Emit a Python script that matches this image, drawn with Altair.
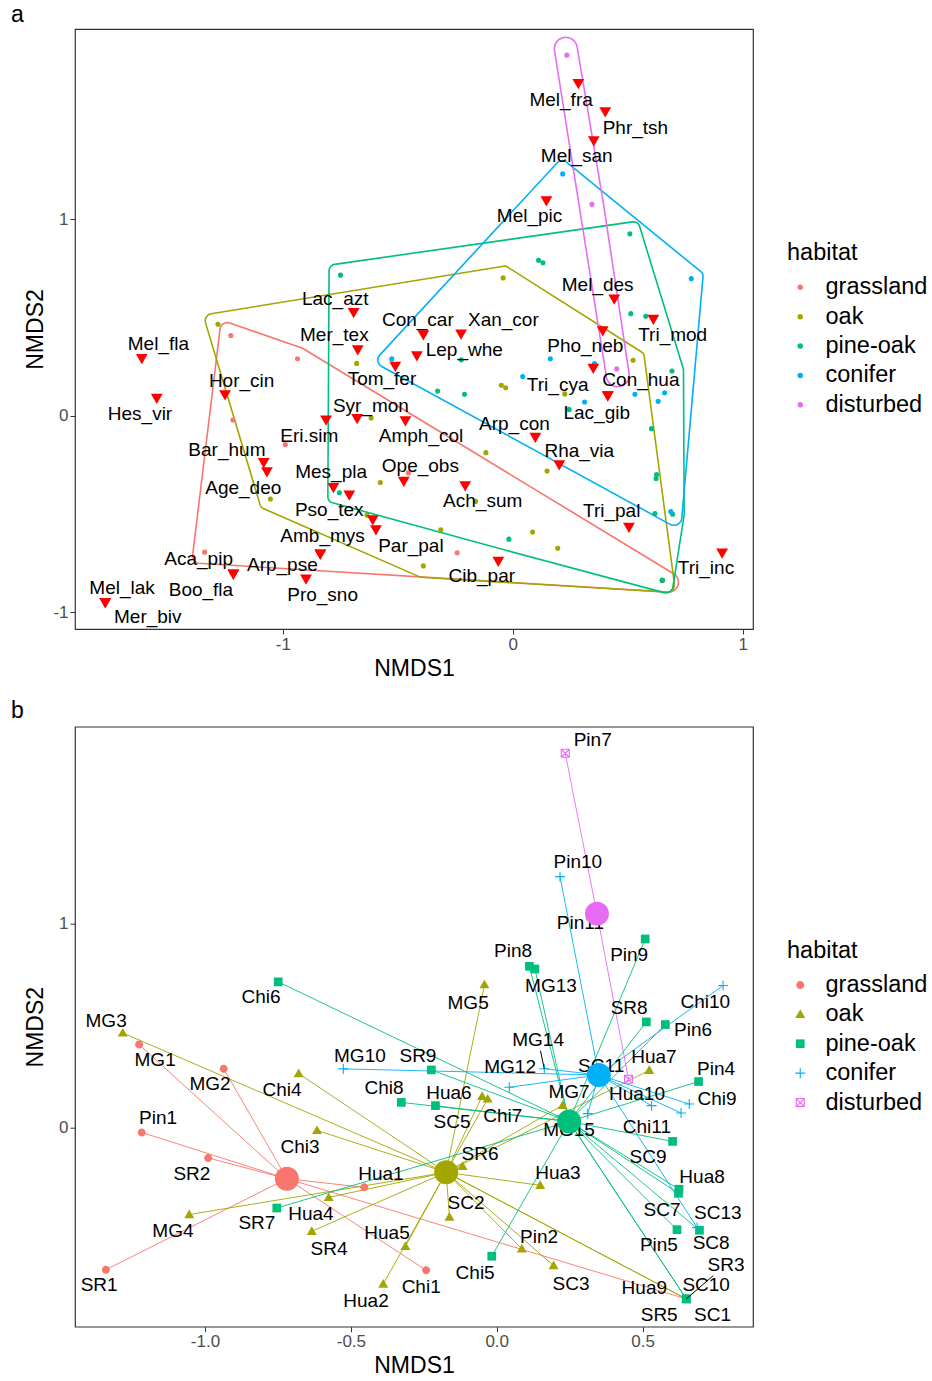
import altair as alt
import numpy as np
import pandas as pd

FONT = "Liberation Sans"
HABITATS = ["grassland", "oak", "pine-oak", "conifer", "disturbed"]
HAB_COLORS = ["#F8766D", "#A3A500", "#00BF7D", "#00B0F6", "#E76BF3"]

# ---------------- sites (NMDS scores) and their label positions (panel b) -------------
grassland_names = ["MG1", "MG2", "Pin1", "SR2", "SR1", "Hua1", "Chi1", "SR5"]
grassland_x = [-1.226, -0.936, -1.217, -0.989, -1.340, -0.454, -0.242, 0.650]
grassland_y = [0.408, 0.290, -0.022, -0.147, -0.694, -0.291, -0.697, -0.837]
grassland_lx = [-1.171, -0.983, -1.161, -1.045, -1.363, -0.397, -0.259, 0.557]
grassland_ly = [0.334, 0.217, 0.050, -0.224, -0.767, -0.224, -0.777, -0.914]

oak_names = ["MG3", "Chi4", "Chi3", "Hua4", "MG4", "SR4", "Hua5", "Hua2", "MG5", "Hua6",
             "Chi7", "SR6", "SC2", "Hua3", "Pin2", "SC3", "MG7", "Hua7", "Hua9", "SC1"]
oak_x = [-1.282, -0.679, -0.616, -0.576, -1.054, -0.634, -0.313, -0.389, -0.042, -0.050,
         -0.031, -0.117, -0.162, 0.149, 0.086, 0.195, 0.226, 0.523, 0.650, 0.650]
oak_y = [0.465, 0.266, -0.012, -0.340, -0.424, -0.506, -0.580, -0.764, 0.701, 0.155,
         0.142, -0.188, -0.436, -0.281, -0.592, -0.674, 0.111, 0.282, -0.837, -0.837]
oak_lx = [-1.339, -0.736, -0.674, -0.637, -1.110, -0.575, -0.376, -0.448, -0.098, -0.164,
          0.021, -0.057, -0.105, 0.210, 0.145, 0.255, 0.248, 0.539, 0.506, 0.740]
oak_ly = [0.525, 0.187, -0.092, -0.419, -0.503, -0.591, -0.512, -0.845, 0.613, 0.173,
          0.057, -0.127, -0.366, -0.219, -0.532, -0.762, 0.178, 0.349, -0.783, -0.914]

pineoak_names = ["Chi6", "SR9", "Chi8", "SC5", "SR7", "Chi5", "Pin8", "MG13", "Pin9", "SR8",
                 "Pin6", "Pin4", "SC9", "Hua8", "SC7", "Pin5", "SC8", "MG15", "SC10", "SR3"]
pineoak_x = [-0.749, -0.224, -0.327, -0.210, -0.754, -0.017, 0.112, 0.131, 0.509, 0.513,
             0.578, 0.692, 0.603, 0.625, 0.623, 0.618, 0.695, 0.245, 0.650, 0.650]
pineoak_y = [0.715, 0.284, 0.125, 0.109, -0.392, -0.628, 0.791, 0.778, 0.925, 0.519,
             0.506, 0.227, -0.066, -0.300, -0.320, -0.498, -0.501, 0.032, -0.837, -0.837]
pineoak_lx = [-0.808, -0.270, -0.386, -0.153, -0.822, -0.074, 0.056, 0.186, 0.454, 0.454,
              0.673, 0.752, 0.519, 0.704, 0.567, 0.556, 0.735, 0.248, 0.718, 0.786]
pineoak_ly = [0.641, 0.354, 0.197, 0.031, -0.464, -0.708, 0.868, 0.697, 0.848, 0.589,
              0.481, 0.290, -0.140, -0.238, -0.400, -0.571, -0.561, -0.008, -0.767, -0.669]

conifer_names = ["MG10", "Pin10", "Chi10", "SC13", "MG12", "MG14", "SC11", "Chi9", "Chi11", "", ""]
conifer_x = [-0.526, 0.217, 0.776, 0.687, 0.043, 0.163, 0.355, 0.660, 0.531, 0.312, 0.632]
conifer_y = [0.289, 1.230, 0.697, -0.488, 0.199, 0.290, 0.265, 0.117, 0.109, 0.070, 0.073]
conifer_lx = [-0.469, 0.278, 0.715, 0.758, 0.046, 0.142, 0.358, 0.755, 0.515, None, None]
conifer_ly = [0.354, 1.300, 0.615, -0.416, 0.300, 0.432, 0.305, 0.143, 0.006, None, None]

disturbed_names = ["Pin7", "Pin11", "Hua10"]
disturbed_x = [0.235, 0.344, 0.452]
disturbed_y = [1.834, 1.075, 0.238]
disturbed_lx = [0.329, 0.287, 0.481]
disturbed_ly = [1.897, 1.002, 0.168]

LEADER_SITES = ["MG14", "SR3"]

# ---------------- species scores (panel a) -------------
sp_names = ["Mel_fra", "Phr_tsh", "Mel_san", "Mel_pic", "Mel_des", "Tri_mod", "Pho_neb", "Tri_cya",
            "Con_hua", "Lac_gib", "Arp_con", "Rha_via", "Tri_pal", "Tri_inc", "Cib_par", "Ach_sum",
            "Ope_obs", "Amph_col", "Syr_mon", "Eri.sim", "Tom_fer", "Lep_whe", "Con_car", "Xan_cor",
            "Mer_tex", "Lac_azt", "Mel_fla", "Hes_vir", "Hor_cin", "Bar_hum", "Age_deo", "Mes_pla",
            "", "Pso_tex", "Par_pal", "Amb_mys", "Arp_pse", "Pro_sno", "Aca_pip", "Boo_fla",
            "Mel_lak", "Mer_biv"]
sp_x = [0.285, 0.402, 0.352, 0.146, 0.441, 0.611, 0.391, 0.350, 0.413, 0.413, 0.098, 0.202,
        0.505, 0.910, -0.063, -0.207, -0.474, -0.467, -0.677, -0.812, -0.511, -0.417, -0.389,
        -0.225, -0.674, -0.692, -1.613, -1.548, -1.251, -1.083, -1.069, -0.780, -0.711, -0.609,
        -0.595, -0.837, -0.837, -0.899, -1.215, -1.215, -1.772, -1.772]
sp_y = [1.687, 1.543, 1.395, 1.090, 0.590, 0.488, 0.429, 0.238, 0.098, 0.098, -0.113, -0.253,
        -0.571, -0.702, -0.744, -0.360, -0.337, -0.029, -0.017, -0.025, 0.248, 0.302, 0.408,
        0.412, 0.332, 0.522, 0.288, 0.086, 0.103, -0.241, -0.288, -0.368, -0.407, -0.533,
        -0.583, -0.707, -0.707, -0.834, -0.809, -0.809, -0.953, -0.953]
sp_lx = [0.210, 0.533, 0.278, 0.073, 0.369, 0.695, 0.315, 0.195, 0.557, 0.365, 0.007, 0.289,
         0.430, 0.840, -0.135, -0.131, -0.402, -0.399, -0.617, -0.885, -0.569, -0.211, -0.413,
         -0.041, -0.776, -0.772, -1.541, -1.621, -1.179, -1.243, -1.172, -0.790, None, -0.798,
         -0.443, -0.827, -1.002, -0.827, -1.366, -1.356, -1.699, -1.587]
sp_ly = [1.607, 1.463, 1.319, 1.014, 0.666, 0.412, 0.352, 0.158, 0.183, 0.014, -0.041, -0.182,
         -0.487, -0.775, -0.817, -0.436, -0.258, -0.105, 0.047, -0.102, 0.187, 0.332, 0.488,
         0.488, 0.408, 0.594, 0.366, 0.009, 0.178, -0.173, -0.368, -0.288, None, -0.478,
         -0.665, -0.614, -0.761, -0.910, -0.729, -0.889, -0.876, -1.024]

# ---------------- layout ----------------
W, H = 678, 600
XA = [-1.9035, 1.0443]
YA = [-1.085, 1.967]
XB = [-1.4457, 0.8786]
YB = [-0.973, 1.964]

blocks = [
    ("grassland", grassland_names, grassland_x, grassland_y, grassland_lx, grassland_ly),
    ("oak", oak_names, oak_x, oak_y, oak_lx, oak_ly),
    ("pine-oak", pineoak_names, pineoak_x, pineoak_y, pineoak_lx, pineoak_ly),
    ("conifer", conifer_names, conifer_x, conifer_y, conifer_lx, conifer_ly),
    ("disturbed", disturbed_names, disturbed_x, disturbed_y, disturbed_lx, disturbed_ly),
]
sites = pd.concat(
    [pd.DataFrame({"site": n, "habitat": h, "x": x, "y": y, "lx": lx, "ly": ly})
     for h, n, x, y, lx, ly in blocks], ignore_index=True)
sites["lx"] = pd.to_numeric(sites["lx"])
sites["ly"] = pd.to_numeric(sites["ly"])
site_labels = sites.dropna(subset=["lx"]).reset_index(drop=True)

species = pd.DataFrame({"species": sp_names, "x": sp_x, "y": sp_y, "lx": sp_lx, "ly": sp_ly})
species["lx"] = pd.to_numeric(species["lx"])
species["ly"] = pd.to_numeric(species["ly"])
species_labels = species.dropna(subset=["lx"]).reset_index(drop=True)


# ---------------- rounded convex hulls (computed in pixel space) ----------------
def rounded_hull(xs, ys, sx, sy, expand=11.5, radius=5.5, dmax=6.5, steps=12):
    pts = sorted(set(zip(np.round(np.asarray(xs, float) * sx, 6),
                         np.round(np.asarray(ys, float) * sy, 6))))

    def cross(o, a, b):
        return (a[0] - o[0]) * (b[1] - o[1]) - (a[1] - o[1]) * (b[0] - o[0])

    lower, upper = [], []
    for p in pts:
        while len(lower) >= 2 and cross(lower[-2], lower[-1], p) <= 0:
            lower.pop()
        lower.append(p)
    for p in reversed(pts):
        while len(upper) >= 2 and cross(upper[-2], upper[-1], p) <= 0:
            upper.pop()
        upper.append(p)
    hull = np.array(lower[:-1] + upper[:-1], dtype=float)
    n = len(hull)
    out = []
    for i in range(n):
        p0, p1, p2 = hull[i - 1], hull[i], hull[(i + 1) % n]
        e1, e2 = p1 - p0, p2 - p1
        n1 = np.array([e1[1], -e1[0]]) / np.hypot(*e1)
        n2 = np.array([e2[1], -e2[0]]) / np.hypot(*e2)
        nb = n1 + n2
        nb = nb / np.hypot(*nb)
        ch = float(n1 @ nb)
        d = min((expand - radius) / ch, dmax) if ch > 1e-9 else dmax
        r = expand - d * ch
        c = p1 + d * nb
        a1 = np.arctan2(n1[1], n1[0])
        sweep = np.arctan2(n1[0] * n2[1] - n1[1] * n2[0], float(n1 @ n2))
        for t in np.linspace(0, 1, steps):
            a = a1 + t * sweep
            out.append((c[0] + r * np.cos(a), c[1] + r * np.sin(a)))
    out.append(out[0])
    return [(px / sx, py / sy) for px, py in out]


SXA = W / (XA[1] - XA[0])
SYA = H / (YA[1] - YA[0])
SXB = W / (XB[1] - XB[0])
SYB = H / (YB[1] - YB[0])

hull_rows = []
for h in HABITATS:
    sub = sites[sites.habitat == h]
    for i, (hx, hy) in enumerate(rounded_hull(sub.x, sub.y, SXA, SYA)):
        hull_rows.append({"habitat": h, "order": i, "x": hx, "y": hy})
hulls = pd.DataFrame(hull_rows)

# leader segments (ggrepel-style) from points to label boxes
seg_rows = []
for _, r in sites[sites.site.isin(LEADER_SITES)].iterrows():
    px, py = r.x * SXB, r.y * SYB
    lx, ly = r.lx * SXB, r.ly * SYB
    dx, dy = px - lx, py - ly
    hw = 0.33 * 19 * len(r.site) + 2
    hh = 11.0
    t = min(hw / abs(dx) if dx else np.inf, hh / abs(dy) if dy else np.inf)
    seg_rows.append({"x": r.x, "y": r.y, "x2": (lx + t * dx) / SXB, "y2": (ly + t * dy) / SYB})
segs = pd.DataFrame(seg_rows)


# ---------------- helpers ----------------
def num_label(fmt):
    return f"datum.value < 0 ? '-' + format(-datum.value, '{fmt}') : format(datum.value, '{fmt}')"


AX_COMMON = dict(labelFlush=False, labelOverlap=False)
axis_xa = alt.Axis(values=[-1, 0, 1], labelExpr=num_label("d"), title="NMDS1",
                   titleX=W / 2, titleY=39, titleBaseline="middle", **AX_COMMON)
axis_ya = alt.Axis(values=[-1, 0, 1], labelExpr=num_label("d"), title="NMDS2",
                   titleX=-39.5, titleY=H / 2, titleAngle=270, titleBaseline="middle",
                   titleAlign="center", **AX_COMMON)
axis_xb = alt.Axis(values=[-1, -0.5, 0, 0.5], labelExpr=num_label(".1f"), title="NMDS1",
                   titleX=W / 2, titleY=39, titleBaseline="middle", **AX_COMMON)
axis_yb = alt.Axis(values=[0, 1], labelExpr=num_label("d"), title="NMDS2",
                   titleX=-39.5, titleY=H / 2, titleAngle=270, titleBaseline="middle",
                   titleAlign="center", **AX_COMMON)


def xa(f, **kw):
    return alt.X(f, type="quantitative", scale=alt.Scale(domain=XA, nice=False, zero=False), axis=axis_xa, **kw)


def ya(f, **kw):
    return alt.Y(f, type="quantitative", scale=alt.Scale(domain=YA, nice=False, zero=False), axis=axis_ya, **kw)


def xb(f, **kw):
    return alt.X(f, type="quantitative", scale=alt.Scale(domain=XB, nice=False, zero=False), axis=axis_xb, **kw)


def yb(f, **kw):
    return alt.Y(f, type="quantitative", scale=alt.Scale(domain=YB, nice=False, zero=False), axis=axis_yb, **kw)


# legend-carrying scale, and a same-colours scale (listed in reverse order) for
# legend-less layers, so Vega-Lite does not merge (and thereby disable) the legends
hab_scale = alt.Scale(domain=HABITATS, range=HAB_COLORS)
hab_scale_nolegend = alt.Scale(domain=HABITATS[::-1], range=HAB_COLORS[::-1])

LEG_COMMON = dict(title="habitat", orient="none", legendX=712, legendY=212, padding=0,
                  titleFontSize=23.5, labelFontSize=23.5, titleFontWeight="normal",
                  titleFont=FONT, labelFont=FONT, titleColor="black", labelColor="black",
                  titlePadding=11, rowPadding=4.4, labelLimit=200)

legend_a = alt.Legend(symbolSize=30, symbolType="circle", symbolStrokeWidth=0,
                      symbolOffset=1.5, labelOffset=13.5, **LEG_COMMON)
legend_b = alt.Legend(symbolSize=100, symbolStrokeWidth=1.1, symbolOffset=1.5, labelOffset=13.5,
                      **LEG_COMMON)

# ---------------- panel a ----------------
hull_layer = alt.Chart(hulls).mark_line(strokeWidth=1.6).encode(
    x=xa("x"), y=ya("y"),
    stroke=alt.Stroke("habitat:N", scale=hab_scale_nolegend, legend=None),
    detail="habitat:N", order="order:Q")

sites_a = alt.Chart(sites).mark_circle(size=26, opacity=1).encode(
    x=xa("x"), y=ya("y"),
    color=alt.Color("habitat:N", scale=hab_scale, legend=legend_a))

species_pts = alt.Chart(species).mark_point(
    shape="triangle-down", filled=True, size=140, color="#FF0000", opacity=1).encode(
    x=xa("x"), y=ya("y"))

species_txt = alt.Chart(species_labels).mark_text(
    font=FONT, fontSize=19, color="black", align="center", baseline="middle").encode(
    x=xa("lx"), y=ya("ly"), text="species:N")

panel_a = alt.layer(hull_layer, sites_a, species_pts, species_txt).properties(
    width=W, height=H,
    title=alt.TitleParams("a", anchor="start", frame="group", dx=-64, offset=2,
                          fontSize=23, fontWeight="normal", font=FONT, color="black"))

# ---------------- panel b ----------------
SHAPES = [
    "M0.8,0A0.8,0.8,0,1,1,-0.8,0A0.8,0.8,0,1,1,0.8,0Z",
    "M0,-1L1,0.73L-1,0.73Z",
    "M-0.87,-0.87L0.87,-0.87L0.87,0.87L-0.87,0.87Z",
    "M-1,0L1,0M0,-1L0,1",
    "M-0.8,-0.8L0.8,-0.8L0.8,0.8L-0.8,0.8ZM-0.8,-0.8L0.8,0.8M-0.8,0.8L0.8,-0.8",
]
FILLS = HAB_COLORS[:3] + ["transparent", "transparent"]
STROKES = ["transparent"] * 3 + HAB_COLORS[3:]

spider = alt.Chart(sites).transform_joinaggregate(
    cx="mean(x)", cy="mean(y)", groupby=["habitat"]).mark_rule(strokeWidth=0.9).encode(
    x=xb("x"), y=yb("y"), x2=alt.X2("cx"), y2=alt.Y2("cy"),
    color=alt.Color("habitat:N", scale=hab_scale_nolegend, legend=None))

sites_b = alt.Chart(sites).mark_point(size=100, opacity=1, strokeWidth=1.1).encode(
    x=xb("x"), y=yb("y"),
    shape=alt.Shape("habitat:N", scale=alt.Scale(domain=HABITATS, range=SHAPES), legend=legend_b),
    fill=alt.Fill("habitat:N", scale=alt.Scale(domain=HABITATS, range=FILLS), legend=legend_b),
    stroke=alt.Stroke("habitat:N", scale=alt.Scale(domain=HABITATS, range=STROKES), legend=legend_b))

centroids = alt.Chart(sites).mark_circle(size=576, opacity=1).encode(
    x=xb("x", aggregate="mean"), y=yb("y", aggregate="mean"),
    color=alt.Color("habitat:N", scale=hab_scale_nolegend, legend=None))

site_txt = alt.Chart(site_labels).mark_text(
    font=FONT, fontSize=19, color="black", align="center", baseline="middle").encode(
    x=xb("lx"), y=yb("ly"), text="site:N")

leaders = alt.Chart(segs).mark_rule(color="black", strokeWidth=1).encode(
    x=xb("x"), y=yb("y"), x2=alt.X2("x2"), y2=alt.Y2("y2"))

panel_b = alt.layer(spider, sites_b, site_txt, leaders, centroids).properties(
    width=W, height=H,
    title=alt.TitleParams("b", anchor="start", frame="group", dx=-64, offset=3.5,
                          fontSize=23, fontWeight="normal", font=FONT, color="black"))

chart = alt.vconcat(panel_a, panel_b, spacing=97.7, bounds="flush").resolve_scale(
    x="independent", y="independent", color="independent", fill="independent",
    stroke="independent", shape="independent").resolve_legend(
    color="independent", fill="independent", stroke="independent", shape="independent"
).properties(
    padding={"left": 10, "top": 3, "right": 0, "bottom": 4}
).configure(font=FONT).configure_axis(
    grid=False, domain=False, tickColor="#333333", tickSize=5, tickWidth=1,
    labelColor="#4D4D4D", labelFontSize=17, labelFont=FONT, labelPadding=2,
    titleFont=FONT, titleFontSize=23, titleFontWeight="normal", titleColor="black"
).configure_view(stroke="#333333", strokeWidth=1.2)

chart.save("out.html", embed_options={"renderer": "svg", "actions": False})
